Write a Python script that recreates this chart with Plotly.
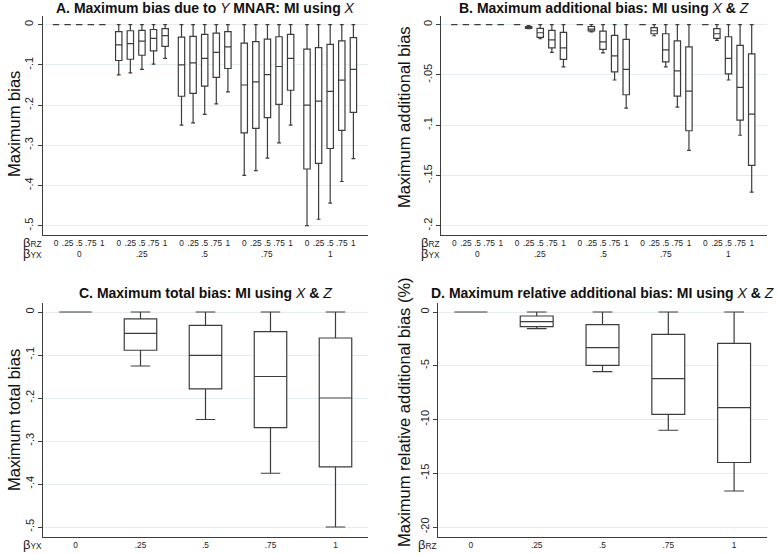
import plotly.graph_objects as go

# ---------------- data ----------------
beta_rz_labels = ["0", ".25", ".5", ".75", "1"]
beta_yx_labels = ["0", ".25", ".5", ".75", "1"]

# Panel A: maximum bias due to Y MNAR, MI using X (ordered by betaYX group, then betaRZ)
a_upper = [0, 0, 0, 0, 0,  0, 0, 0, 0, 0,  0, 0, 0, 0, 0,  0, 0, 0, 0, 0,  0, 0, 0, 0, 0]
a_q3 = [0, 0, 0, 0, 0,
        -0.017, -0.015, -0.014, -0.012, -0.010,
        -0.031, -0.029, -0.024, -0.021, -0.017,
        -0.046, -0.042, -0.036, -0.030, -0.024,
        -0.061, -0.057, -0.049, -0.040, -0.032]
a_median = [0, 0, 0, 0, 0,
            -0.050, -0.047, -0.041, -0.034, -0.027,
            -0.100, -0.095, -0.084, -0.069, -0.055,
            -0.150, -0.142, -0.124, -0.104, -0.084,
            -0.200, -0.190, -0.166, -0.138, -0.111]
a_q1 = [0, 0, 0, 0, 0,
        -0.089, -0.086, -0.076, -0.065, -0.054,
        -0.178, -0.171, -0.153, -0.131, -0.109,
        -0.269, -0.258, -0.231, -0.198, -0.163,
        -0.359, -0.345, -0.308, -0.263, -0.218]
a_lower = [0, 0, 0, 0, 0,
           -0.125, -0.120, -0.111, -0.098, -0.084,
           -0.250, -0.244, -0.223, -0.197, -0.167,
           -0.375, -0.363, -0.332, -0.294, -0.250,
           -0.500, -0.484, -0.444, -0.390, -0.333]

# Panel B: maximum additional bias, MI using X & Z
b_upper = [0, 0, 0, 0, 0,  0, -0.001, 0, 0, 0,  0, 0, 0, 0, 0,  0, 0, 0, 0, 0,  0, 0, 0, 0, 0]
b_q3 = [0, 0, 0, 0, 0,
        0, -0.0018, -0.0036, -0.0056, -0.0076,
        0, -0.0018, -0.0063, -0.0106, -0.0146,
        0, -0.0030, -0.0090, -0.0160, -0.0220,
        0, -0.0040, -0.0120, -0.0206, -0.0290]
b_median = [0, 0, 0, 0, 0,
            0, -0.0027, -0.0080, -0.0150, -0.0230,
            0, -0.0045, -0.0170, -0.0310, -0.0444,
            0, -0.0060, -0.0250, -0.0460, -0.0660,
            0, -0.0090, -0.0335, -0.0624, -0.0890]
b_q1 = [0, 0, 0, 0, 0,
        0, -0.0036, -0.0126, -0.0230, -0.0345,
        0, -0.0062, -0.0245, -0.0470, -0.0697,
        0, -0.0090, -0.0370, -0.0710, -0.1055,
        0, -0.0136, -0.0490, -0.0950, -0.1400]
b_lower = [0, 0, 0, 0, 0,
           0, -0.0040, -0.0140, -0.0275, -0.0420,
           0, -0.0072, -0.0280, -0.0550, -0.0830,
           0, -0.0110, -0.0420, -0.0820, -0.1250,
           0, -0.0156, -0.0550, -0.1100, -0.1665]

# Panel C: maximum total bias, MI using X & Z (by betaYX)
c_upper = [0, 0, 0, 0, 0]
c_q3 = [0, -0.016, -0.031, -0.0457, -0.0605]
c_median = [0, -0.0496, -0.1008, -0.150, -0.200]
c_q1 = [0, -0.089, -0.179, -0.269, -0.360]
c_lower = [0, -0.1256, -0.250, -0.375, -0.500]

# Panel D: maximum relative additional bias (%), MI using X & Z (by betaRZ)
d_upper = [0, 0, 0, 0, 0]
d_q3 = [0, -0.37, -1.18, -2.08, -2.91]
d_median = [0, -0.90, -3.32, -6.20, -8.90]
d_q1 = [0, -1.36, -4.96, -9.52, -14.00]
d_lower = [0, -1.55, -5.55, -11.00, -16.65]

yticks_a = [0, -0.1, -0.2, -0.3, -0.4, -0.5]
yticktext_a = ["0", "-.1", "-.2", "-.3", "-.4", "-.5"]
yticks_b = [0, -0.05, -0.1, -0.15, -0.2]
yticktext_b = ["0", "-.05", "-.1", "-.15", "-.2"]
yticks_d = [0, -5, -10, -15, -20]
yticktext_d = ["0", "-5", "-10", "-15", "-20"]

titles = [
    "<b>A. Maximum bias due to </b><i>Y</i><b> MNAR: MI using </b><i>X</i>",
    "<b>B. Maximum additional bias: MI using </b><i>X</i><b> & </b><i>Z</i>",
    "<b>C. Maximum total bias: MI using </b><i>X</i><b> & </b><i>Z</i>",
    "<b>D. Maximum relative additional bias: MI using </b><i>X</i><b> & </b><i>Z</i>",
]
ytitles = ["Maximum bias", "Maximum additional bias", "Maximum total bias",
           "Maximum relative additional bias (%)"]

# ---------------- layout helpers ----------------
W, H = 777, 554
FONT = "Liberation Sans, Arial, sans-serif"
INK = "#3c3c3c"
GRID = "#e3eef0"


def fx(p):
    return p / W


def fy(p):
    return 1 - p / H


# positions of the 25 boxes in panels A and B (group spacing / within spacing)
UNIT = 11.6            # px per within-group step
GSTEP = 62.75 / UNIT   # group step in units
pos = []
for g in range(5):
    for i in range(5):
        pos.append(g * GSTEP + i)
group_centers = [g * GSTEP + 2 for g in range(5)]
xmin_ab = 2 - 36.5 / UNIT


def box(x, q1, med, q3, lo, hi, xa, ya, width):
    return go.Box(
        x=x, q1=q1, median=med, q3=q3, lowerfence=lo, upperfence=hi,
        xaxis=xa, yaxis=ya, width=width, boxpoints=False,
        fillcolor="white", line=dict(color=INK, width=1.2),
        whiskerwidth=0.6, showlegend=False, hoverinfo="skip",
    )


fig = go.Figure()
fig.add_trace(box(pos, a_q1, a_median, a_q3, a_lower, a_upper, "x", "y", 0.55))
fig.add_trace(box(pos, b_q1, b_median, b_q3, b_lower, b_upper, "x2", "y2", 0.55))
fig.add_trace(box(beta_yx_labels, c_q1, c_median, c_q3, c_lower, c_upper, "x3", "y3", 0.5))
fig.add_trace(box(beta_rz_labels, d_q1, d_median, d_q3, d_lower, d_upper, "x4", "y4", 0.5))

panels = {
    # name: (x left px, x right px, y top px, y bottom px, y0 px, yscale px/unit)
    "A": (42.7, 368, 16, 235, 24.7, 402.0),
    "B": (441, 767, 16, 235, 24.7, 1005.0),
    "C": (43, 368, 303, 537, 312, 430.0),
    "D": (438, 767, 303, 537, 312, 10.75),
}

common_y = dict(
    showline=True, linecolor=INK, linewidth=1,
    ticks="outside", ticklen=4, tickcolor=INK, tickwidth=1,
    tickangle=-90, tickfont=dict(family=FONT, size=11, color="#222"),
    showgrid=True, gridcolor=GRID, gridwidth=1, zeroline=False,
)
common_x = dict(
    showline=True, linecolor=INK, linewidth=1, ticks="", showgrid=False,
    zeroline=False, tickangle=0,
    tickfont=dict(family=FONT, size=8.3, color="#222"),
)

layout = {}
ytick_sets = [(yticks_a, yticktext_a), (yticks_b, yticktext_b),
              (yticks_a, yticktext_a), (yticks_d, yticktext_d)]
for k, name in enumerate(["A", "B", "C", "D"]):
    xl, xr, yt, yb, y0, sc = panels[name]
    sfx = "" if k == 0 else str(k + 1)
    yr = [-(yb - y0) / sc, (y0 - yt) / sc]
    ya = dict(common_y, domain=[fy(yb), fy(yt)], range=yr, anchor="x" + sfx,
              tickvals=ytick_sets[k][0], ticktext=ytick_sets[k][1])
    if k < 2:
        xa = dict(common_x, domain=[fx(xl), fx(xr)], anchor="y" + sfx,
                  range=[xmin_ab, xmin_ab + (xr - xl) / UNIT],
                  tickmode="array", tickvals=pos, ticktext=beta_rz_labels * 5)
    else:
        xa = dict(common_x, domain=[fx(xl), fx(xr)], anchor="y" + sfx,
                  type="category", range=[-0.5, 4.5],
                  categoryorder="array", categoryarray=beta_yx_labels)
    layout["xaxis" + sfx] = xa
    layout["yaxis" + sfx] = ya

annotations = []
# panel titles
title_y = [8, 8, 293, 293]
for k, name in enumerate(["A", "B", "C", "D"]):
    xl, xr, yt, yb, y0, sc = panels[name]
    annotations.append(dict(text=titles[k], xref="paper", yref="paper",
                            x=fx((xl + xr) / 2), y=fy(title_y[k]),
                            xanchor="center", yanchor="middle", showarrow=False,
                            font=dict(family=FONT, size=14, color="#111")))
# y axis titles
ytitle_pos = [(14, 124), (404, 117), (14, 420), (404, 412)]
for k in range(4):
    annotations.append(dict(text=ytitles[k], xref="paper", yref="paper",
                            x=fx(ytitle_pos[k][0]), y=fy(ytitle_pos[k][1]),
                            xanchor="center", yanchor="middle", textangle=-90,
                            showarrow=False,
                            font=dict(family=FONT, size=16.5, color="#111")))

BETA = "<span style='font-size:13px'>β</span>"
beta_rz = BETA + "RZ"
beta_yx = BETA + "YX"
SFONT = dict(family=FONT, size=8.3, color="#222")
# betaRZ / betaYX row labels for A and B (two lines in one label)
for k, name in enumerate(["A", "B"]):
    xl = panels[name][0]
    annotations.append(dict(text=beta_rz + "<br>" + beta_yx, xref="paper",
                            yref="paper", x=fx(xl + 1), y=fy(247.5),
                            xanchor="right", yanchor="middle", align="left",
                            showarrow=False, font=SFONT))
    sfx = "" if k == 0 else "2"
    for g, lab in enumerate(beta_yx_labels):
        annotations.append(dict(text=lab, xref="x" + sfx, yref="paper",
                                x=group_centers[g], y=fy(253.5),
                                xanchor="center", yanchor="middle",
                                showarrow=False, font=SFONT))
# C and D axis labels
annotations.append(dict(text=beta_yx, xref="paper", yref="paper",
                        x=fx(panels["C"][0] + 1), y=fy(544), xanchor="right",
                        yanchor="middle", showarrow=False, font=SFONT))
annotations.append(dict(text=beta_rz, xref="paper", yref="paper",
                        x=fx(panels["D"][0] + 1), y=fy(544), xanchor="right",
                        yanchor="middle", showarrow=False, font=SFONT))

fig.update_layout(
    width=W, height=H, margin=dict(l=0, r=0, t=0, b=0),
    paper_bgcolor="white", plot_bgcolor="white",
    boxmode="overlay", annotations=annotations, showlegend=False,
    font=dict(family=FONT), **layout,
)

fig.write_html("out.html", config={"displayModeBar": False},
               post_script="document.body.style.margin='0';"
                           "document.body.style.overflow='hidden';")
